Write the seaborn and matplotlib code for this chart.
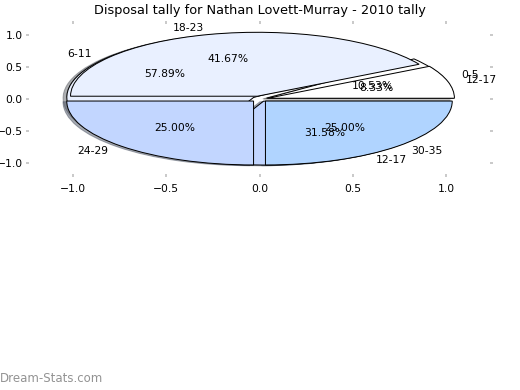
import seaborn as sns
import matplotlib.pyplot as plt

sns.set_style("white")

labels_a = ["0-5", "6-11", "12-17"]
values_a = [10.53, 57.89, 31.58]
colors_a = ["#ffffff", "#e9f0ff", "#c2d6ff"]

labels_b = ["12-17", "18-23", "24-29", "30-35"]
values_b = [8.33, 41.67, 25.00, 25.00]
colors_b = ["#ffffff", "#e9f0ff", "#c2d6ff", "#b0d4ff"]

fig = plt.figure(figsize=(6.5, 4.875), dpi=80)
ax = fig.add_axes([26 / 520, 1 - 177 / 390, 467 / 520, 156 / 390])

for labels, values, colors, gap in ((labels_a, values_a, colors_a, 0.04), (labels_b, values_b, colors_b, 0.045)):
    ax.pie(values, labels=labels, colors=colors, autopct="%.2f%%",
           shadow={"ox": -0.018, "oy": -0.01, "shade": 0.6},
           explode=[gap] * len(values), frame=True,
           wedgeprops={"edgecolor": "black", "linewidth": 0.9},
           textprops={"fontsize": 9.7, "color": "black"})

ax.set_aspect("auto")
ax.set_xlim(-1.25, 1.25)
ax.set_ylim(-1.22, 1.22)
ax.set_xticks([-1.0, -0.5, 0.0, 0.5, 1.0])
ax.set_yticks([-1.0, -0.5, 0.0, 0.5, 1.0])
ax.set_xticklabels(["\u22121.0", "\u22120.5", "0.0", "0.5", "1.0"])
ax.set_yticklabels(["\u22121.0", "\u22120.5", "0.0", "0.5", "1.0"])
ax.set_frame_on(False)
ax.tick_params(axis="both", which="both", length=3, width=1.6, color="#c4c4c4", direction="in",
               top=True, right=True, bottom=True, left=True, labelsize=9.7, labelcolor="black", pad=3)
ax.tick_params(axis="x", pad=6)
ax.set_title("Disposal tally for Nathan Lovett-Murray - 2010 tally", fontsize=11.65, color="black", pad=6)

fig.text(0.0, 0.012, "Dream-Stats.com", fontsize=10.6, color="#939393", ha="left", va="bottom")

fig.savefig("out.png", dpi=80)
